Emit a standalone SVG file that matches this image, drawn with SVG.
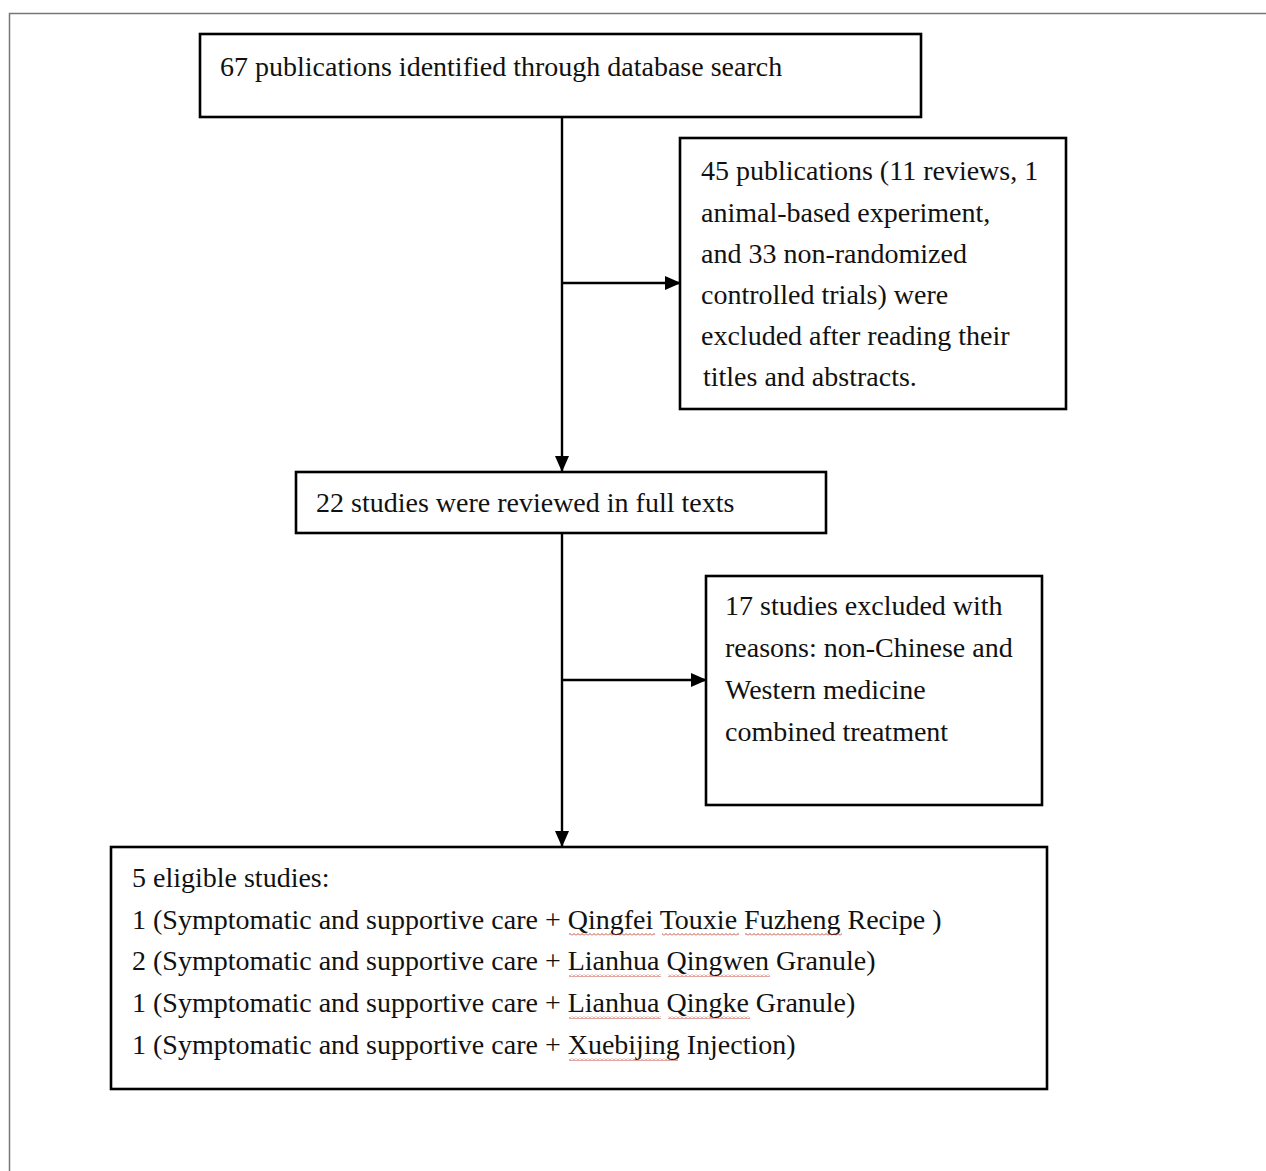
<svg xmlns="http://www.w3.org/2000/svg" width="1266" height="1171" viewBox="0 0 1266 1171">
<style>
.box{fill:#fff;stroke:#000;stroke-width:2.6}
.t{font-family:"Liberation Serif","Times New Roman",serif;font-size:28px;fill:#111}
.ln{stroke:#000;stroke-width:2.4;fill:none}
.sq{fill:url(#sq)}
</style>
<defs>
<marker id="ah" markerWidth="16" markerHeight="14" refX="15" refY="7" orient="auto" markerUnits="userSpaceOnUse">
<path d="M0,0 L16,7 L0,14 Z" fill="#000"/>
</marker>
<pattern id="sq" width="4" height="3" patternUnits="userSpaceOnUse">
<path d="M0,2.5 L2,0.5 L4,2.5" fill="none" stroke="#c0392b" stroke-width="0.9"/>
</pattern>
</defs>
<rect width="1266" height="1171" fill="#fff"/>
<path d="M9.5,1171 V13.5 H1266" fill="none" stroke="#777" stroke-width="1.5"/>

<g id="connectors">
<path class="ln" d="M562,117 V471" marker-end="url(#ah)"/>
<path class="ln" d="M562,283 H680" marker-end="url(#ah)"/>
<path class="ln" d="M562,533 V846" marker-end="url(#ah)"/>
<path class="ln" d="M562,680 H706" marker-end="url(#ah)"/>
</g>

<g id="n1">
<rect class="box" x="200" y="34" width="721" height="83"/>
<text class="t" x="220" y="76">67 publications identified through database search</text>
</g>

<g id="n2">
<rect class="box" x="680" y="138" width="386" height="271"/>
<text class="t" x="701" y="180">45 publications (11 reviews, 1</text>
<text class="t" x="701" y="222">animal-based experiment,</text>
<text class="t" x="701" y="263">and 33 non-randomized</text>
<text class="t" x="701" y="304">controlled trials) were</text>
<text class="t" x="701" y="345">excluded after reading their</text>
<text class="t" x="703" y="386">titles and abstracts.</text>
</g>

<g id="n3">
<rect class="box" x="296" y="472" width="530" height="61"/>
<text class="t" x="316" y="512">22 studies were reviewed in full texts</text>
</g>

<g id="n4">
<rect class="box" x="706" y="576" width="336" height="229"/>
<text class="t" x="725" y="615">17 studies excluded with</text>
<text class="t" x="725" y="657">reasons: non-Chinese and</text>
<text class="t" x="725" y="699">Western medicine</text>
<text class="t" x="725" y="741">combined treatment</text>
</g>

<g id="n5">
<rect class="box" x="111" y="847" width="936" height="242"/>
<text class="t" x="132" y="887">5 eligible studies:</text>
<text class="t" x="132" y="929">1 (Symptomatic and supportive care + Qingfei Touxie Fuzheng Recipe )</text>
<text class="t" x="132" y="970">2 (Symptomatic and supportive care + Lianhua Qingwen Granule)</text>
<text class="t" x="132" y="1012">1 (Symptomatic and supportive care + Lianhua Qingke Granule)</text>
<text class="t" x="132" y="1054">1 (Symptomatic and supportive care + Xuebijing Injection)</text>
<rect class="sq" x="569" y="933" width="86" height="3"/>
<rect class="sq" x="662" y="933" width="77" height="3"/>
<rect class="sq" x="745" y="933" width="97" height="3"/>
<rect class="sq" x="569" y="974" width="92" height="3"/>
<rect class="sq" x="668" y="974" width="102" height="3"/>
<rect class="sq" x="569" y="1016" width="92" height="3"/>
<rect class="sq" x="668" y="1016" width="82" height="3"/>
<rect class="sq" x="569" y="1058" width="109" height="3"/>
</g>
</svg>
